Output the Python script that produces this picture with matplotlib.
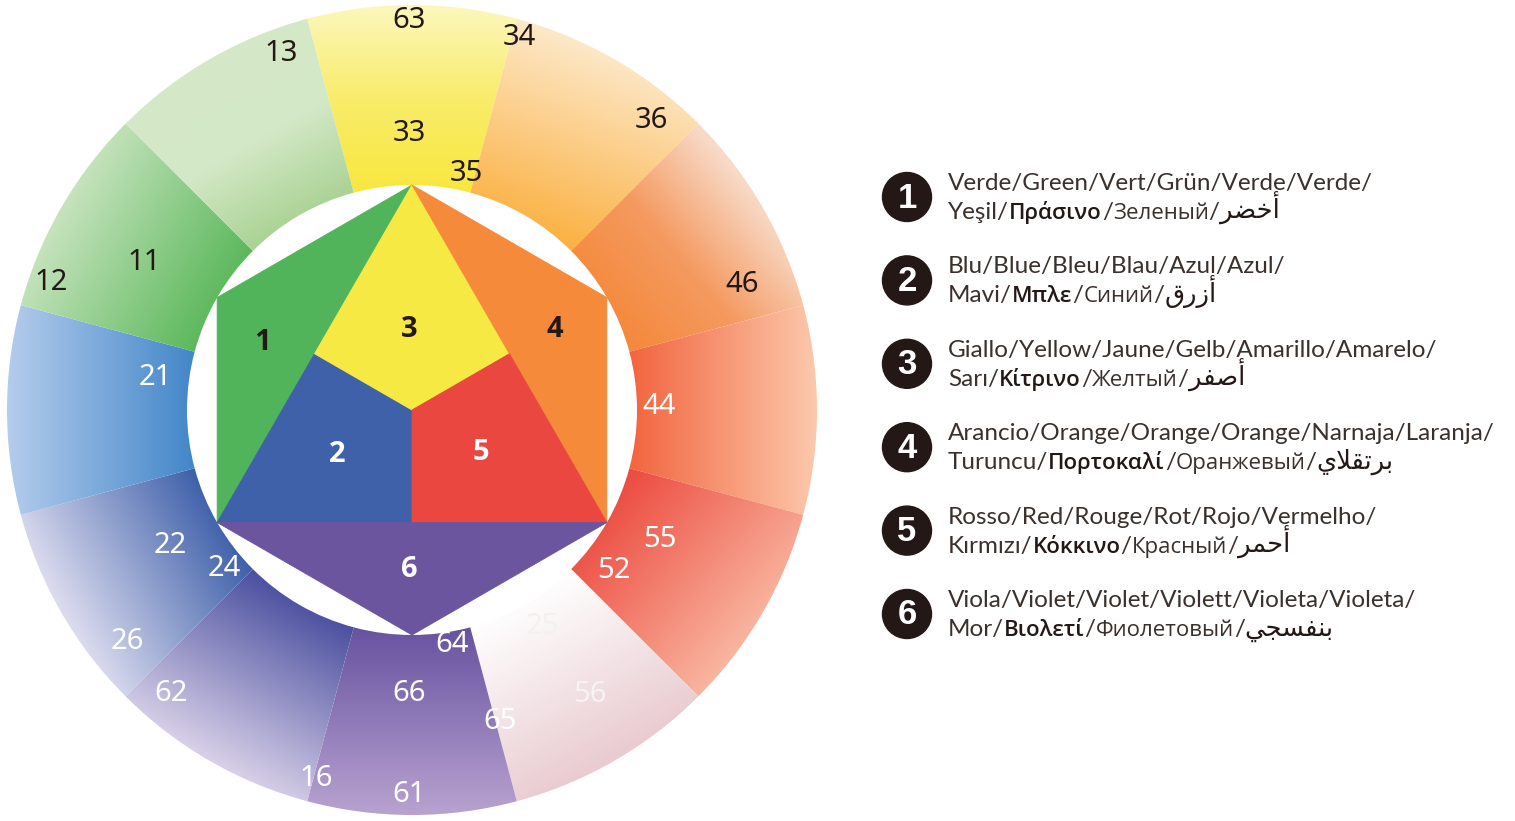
import numpy as np
import matplotlib
matplotlib.use("Agg")
import matplotlib.pyplot as plt
from matplotlib.patches import Wedge, Polygon, Circle
from matplotlib.colors import LinearSegmentedColormap

# ---------------- data ----------------
# ring sectors (centre angle in degrees, counter-clockwise from east)
sector_angles = [90, 60, 30, 0, -30, -60, -90, -120, -150, 180, 150, 120]
sector_stops = [
    ["#f8e73f", "#f9ec6a", "#fcf7bc"],
    ["#fbb040", "#fde8c8"],
    ["#f4883a", "#f59a60", "#f8dccb"],
    ["#f2643e", "#fcc8ab"],
    ["#ec4a3f", "#f9b59f"],
    ["#ffffff", "#e9cbd0"],
    ["#6752a0", "#b8a2d0"],
    ["#4a4f9f", "#d8d0e8"],
    ["#3d5fa9", "#dcdcef"],
    ["#4286c9", "#b4ccec"],
    ["#5bb85b", "#c6e3bd"],
    ["#a9d293", "#d3e8c6", "#d5e9c9"],
]
sector_grad_dir = [90, 70, 40, 0, -40, -60, -90, -120, -150, 180, 150, 120]

# ring number labels: text, angle (deg), radius (px), colour
ring_labels = ["63", "33", "35", "34", "36", "46", "44", "55", "52", "25", "56",
               "65", "64", "66", "61", "16", "62", "24", "22", "26", "21", "12",
               "11", "13"]
ring_label_ang = [90.4, 90.6, 77, 74, 50.4, 20.9, 0.7, -27.5, -38.6, -58.9, -58,
                  -74.3, -80.3, -90.6, -90.4, -104.6, -130.3, -139.8, -150.6,
                  -140.9, 172.7, 160.6, 151.1, 110.1]
ring_label_rad = [390, 277, 243, 388, 376, 353, 247, 280, 258, 253, 336,
                  324, 238, 284, 385, 381, 372, 246, 277, 367, 259, 383, 306, 380]
DARK = "#231815"
ring_label_col = [DARK, DARK, DARK, DARK, DARK, DARK, "white", "white", "white",
                  "#f4f0f0", "#f7f2f3", "white", "white", "white", "white", "white",
                  "white", "white", "white", "white", "white", DARK, DARK, DARK]

# hexagon regions
hex_labels = ["1", "2", "3", "4", "5", "6"]
hex_colors = ["#52b45a", "#3e61aa", "#f7e943", "#f48a3a", "#e9473f", "#6b559f"]
hex_label_colors = [DARK, "white", DARK, DARK, "white", "white"]
hex_label_xy = [(-0.662, 0.298), (-0.333, -0.196), (-0.013, 0.36),
                (0.636, 0.36), (0.307, -0.187), (-0.013, -0.707)]

# legend
legend_numbers = ["1", "2", "3", "4", "5", "6"]
legend_line1 = ["Verde/Green/Vert/Grün/Verde/Verde/",
                "Blu/Blue/Bleu/Blau/Azul/Azul/",
                "Giallo/Yellow/Jaune/Gelb/Amarillo/Amarelo/",
                "Arancio/Orange/Orange/Orange/Narnaja/Laranja/",
                "Rosso/Red/Rouge/Rot/Rojo/Vermelho/",
                "Viola/Violet/Violet/Violett/Violeta/Violeta/"]
legend_turkish = ["Yeşil", "Mavi", "Sarı", "Turuncu", "Kırmızı", "Mor"]
legend_greek = ["Πράσινο", "Μπλε", "Κίτρινο", "Πορτοκαλί", "Κόκκινο", "Βιολετί"]
legend_russian = ["Зеленый", "Синий", "Желтый", "Оранжевый", "Красный", "Фиолетовый"]
legend_arabic = ["أخضر", "أزرق", "أصفر", "برتقلاي", "أحمر", "بنفسجي"]

# ---------------- arabic shaping (presentation forms) ----------------
AR_FORMS = {  # iso, fin, ini, med
    "\u0623": (0xFE83, 0xFE84, None, None),
    "\u0627": (0xFE8D, 0xFE8E, None, None),
    "\u0628": (0xFE8F, 0xFE90, 0xFE91, 0xFE92),
    "\u062A": (0xFE95, 0xFE96, 0xFE97, 0xFE98),
    "\u062C": (0xFE9D, 0xFE9E, 0xFE9F, 0xFEA0),
    "\u062D": (0xFEA1, 0xFEA2, 0xFEA3, 0xFEA4),
    "\u062E": (0xFEA5, 0xFEA6, 0xFEA7, 0xFEA8),
    "\u0631": (0xFEAD, 0xFEAE, None, None),
    "\u0632": (0xFEAF, 0xFEB0, None, None),
    "\u0633": (0xFEB1, 0xFEB2, 0xFEB3, 0xFEB4),
    "\u0635": (0xFEB9, 0xFEBA, 0xFEBB, 0xFEBC),
    "\u0636": (0xFEBD, 0xFEBE, 0xFEBF, 0xFEC0),
    "\u0641": (0xFED1, 0xFED2, 0xFED3, 0xFED4),
    "\u0642": (0xFED5, 0xFED6, 0xFED7, 0xFED8),
    "\u0644": (0xFEDD, 0xFEDE, 0xFEDF, 0xFEE0),
    "\u0645": (0xFEE1, 0xFEE2, 0xFEE3, 0xFEE4),
    "\u0646": (0xFEE5, 0xFEE6, 0xFEE7, 0xFEE8),
    "\u064A": (0xFEF1, 0xFEF2, 0xFEF3, 0xFEF4),
}


def shape_arabic(word):
    units = []
    i = 0
    while i < len(word):
        if word[i] == "\u0644" and i + 1 < len(word) and word[i + 1] in "\u0627\u0623":
            units.append(("LA", word[i + 1]))
            i += 2
        else:
            units.append((word[i], None))
            i += 1

    def dual(u):
        return u[0] != "LA" and AR_FORMS[u[0]][2] is not None

    out = []
    for k, u in enumerate(units):
        jp = k > 0 and dual(units[k - 1])
        jn = k + 1 < len(units) and dual(u)
        if u[0] == "LA":
            base = (0xFEFB, 0xFEFC) if u[1] == "\u0627" else (0xFEF7, 0xFEF8)
            out.append(chr(base[1] if jp else base[0]))
            continue
        f = AR_FORMS[u[0]]
        if jp and jn:
            c = f[3]
        elif jp:
            c = f[1]
        elif jn:
            c = f[2]
        else:
            c = f[0]
        out.append(chr(c))
    return "".join(reversed(out))


# ---------------- figure ----------------
W, H = 1515, 821
CX, CY = 412, 410
R_OUT, R_IN = 405, 225

fig = plt.figure(figsize=(W / 100, H / 100), dpi=100)
ax = fig.add_axes([0, 0, 1, 1])
ax.set_xlim(-CX, W - CX)
ax.set_ylim(-(H - CY), CY)
ax.axis("off")

n = 400
xs = np.linspace(-R_OUT, R_OUT, n)
X, Y = np.meshgrid(xs, xs)
for ang, stops, gd in zip(sector_angles, sector_stops, sector_grad_dir):
    angs = np.radians(np.linspace(ang - 15, ang + 15, 31))
    d = np.radians(gd)
    ux, uy = np.cos(d), np.sin(d)
    pts = np.concatenate([np.c_[r * np.cos(angs), r * np.sin(angs)] for r in (R_IN, R_OUT)])
    proj = pts @ np.array([ux, uy])
    a, b = proj.min(), proj.max()
    t = np.clip((X * ux + Y * uy - a) / (b - a), 0, 1)
    cmap = LinearSegmentedColormap.from_list("s", stops)
    im = ax.imshow(t, cmap=cmap, vmin=0, vmax=1, extent=(-R_OUT, R_OUT, -R_OUT, R_OUT),
                   origin="lower", interpolation="bilinear", zorder=1)
    wedge = Wedge((0, 0), R_OUT, ang - 15, ang + 15, width=R_OUT - R_IN,
                  transform=ax.transData)
    im.set_clip_path(wedge)

# hexagon
Rh = R_IN


def pol(r, deg):
    return (Rh * r * np.cos(np.radians(deg)), Rh * r * np.sin(np.radians(deg)))


V = {a: pol(1, a) for a in (90, 150, 210, 270, 330, 30)}
P = {a: pol(0.5, a) for a in (150, 30, 270)}
C0 = (0, 0)
hex_polys = [
    [V[90], V[150], V[210], P[150]],          # 1 green
    [P[150], V[210], P[270], C0],             # 2 blue
    [V[90], P[150], C0, P[30]],               # 3 yellow
    [V[90], P[30], V[330], V[30]],            # 4 orange
    [C0, P[270], V[330], P[30]],              # 5 red
    [V[210], V[330], V[270]],                 # 6 violet
]
for poly, col in zip(hex_polys, hex_colors):
    ax.add_patch(Polygon(poly, closed=True, facecolor=col, edgecolor=col, lw=0.6, zorder=2))

for lab, (hx, hy), col in zip(hex_labels, hex_label_xy, hex_label_colors):
    ax.text(hx * Rh, hy * Rh, lab, color=col, fontsize=21, fontweight="bold",
            family="Open Sans", ha="center", va="center", zorder=4)

for lab, a, r, col in zip(ring_labels, ring_label_ang, ring_label_rad, ring_label_col):
    ax.text(r * np.cos(np.radians(a)), r * np.sin(np.radians(a)), lab, color=col,
            fontsize=21, family="Noto Sans", ha="center", va="center", zorder=4)

# legend
renderer = fig.canvas.get_renderer()
LEG_X = 907 - CX
TXT_X = 948 - CX
LIGHT = dict(family="Lato", fontweight="normal", fontsize=17.5, color="#3a302c")
GREEK = dict(family="Open Sans", fontweight="semibold", fontsize=16, color=DARK)
RUS = dict(family="Open Sans", fontweight="normal", fontsize=16, color="#3a302c")
ARAB = dict(family="DejaVu Sans", fontweight="normal", fontsize=18.5, color=DARK)


def chain(x, y, pieces):
    for s, kw in pieces:
        t = ax.text(x, y, s, ha="left", va="baseline", zorder=4, **kw)
        bb = t.get_window_extent(renderer=renderer)
        x += bb.width
    return x


for i, num in enumerate(legend_numbers):
    cy_pix = 197 + 83.4 * i
    y = CY - cy_pix
    ax.add_patch(Circle((LEG_X, y), 24.5, color=DARK, zorder=3))
    ax.text(LEG_X, y - 1, num, color="white", fontsize=25, fontweight="bold",
            family="Liberation Sans", ha="center", va="center", zorder=4)
    chain(TXT_X, y + 7, [(legend_line1[i], LIGHT)])
    chain(TXT_X, y - 22, [(legend_turkish[i] + "/", LIGHT), (legend_greek[i], GREEK),
                          ("/", LIGHT), (legend_russian[i], RUS), ("/", LIGHT),
                          (shape_arabic(legend_arabic[i]), ARAB)])

fig.savefig("out.png", dpi=100, facecolor="white")
